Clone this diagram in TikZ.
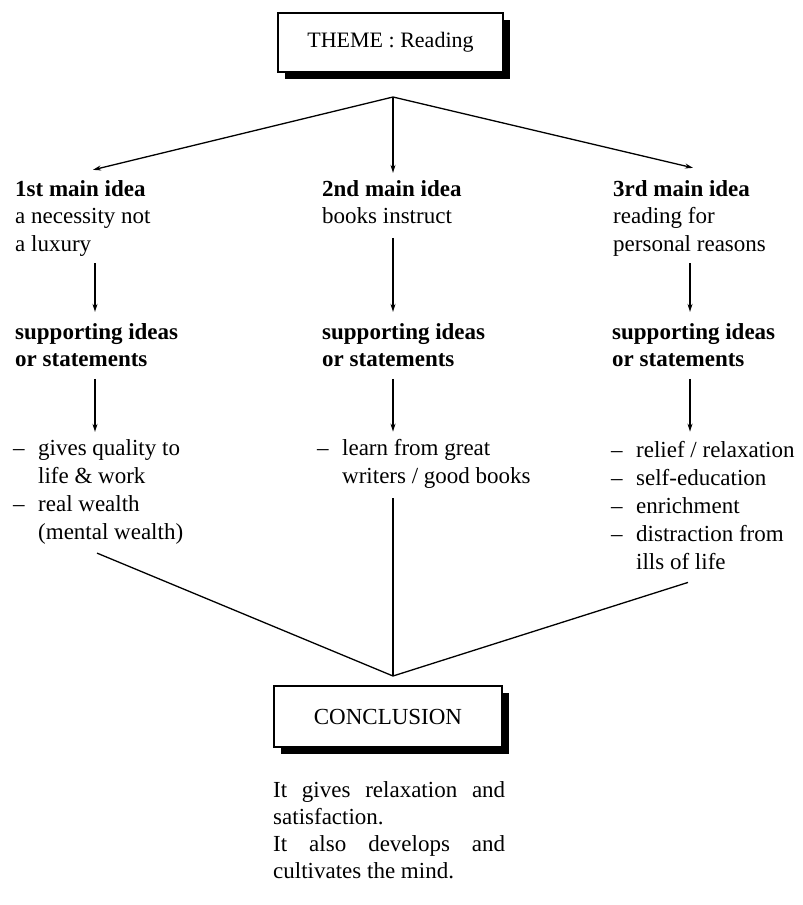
\documentclass[tikz,border=0pt]{standalone}
\usepackage{fontspec}
\setmainfont{Liberation Serif}
\usetikzlibrary{arrows.meta,calc,shadows}
\newcommand{\dashitem}{\makebox[25pt][l]{–}}
\newcommand{\contitem}{\hspace*{25pt}}
\begin{document}
\begin{tikzpicture}[x=1pt,y=-1pt,
  txt/.style={anchor=base west,inner sep=0pt,align=left,font=\fontsize{23}{27.5}\selectfont},
  bul/.style={txt,font=\fontsize{23}{28}\selectfont},
  box/.style={draw,line width=1.3pt,fill=white,inner sep=0pt,
    drop shadow={shadow xshift=6.5pt,shadow yshift=-6.5pt,opacity=1,fill=black}},
  arr/.style={line width=1.3pt,-{Stealth[length=8pt,width=5pt]}},
  ln/.style={line width=1.3pt}]
\useasboundingbox (0,0) rectangle (803,905);

% boxes
\node[box,minimum width=225pt,minimum height=59pt,font=\fontsize{22}{26}\selectfont] (theme) at (390.5,42.5) {THEME : Reading};
\node[box,minimum width=228pt,minimum height=61pt,font=\fontsize{23}{27}\selectfont] (concl) at (388,716.5) {CONCLUSION};

\coordinate (top) at (393,97);
\coordinate (bot) at (393,676);
\coordinate (c1) at (95,0);
\coordinate (c2) at (393,0);
\coordinate (c3) at (690,0);

% main ideas (positioned at the baseline of their last line)
\node[txt] (m1) at (15,251) {\textbf{1st main idea}\\a necessity not\\a luxury};
\node[txt] (m2) at (322,223.5) {\textbf{2nd main idea}\\books instruct};
\node[txt] (m3) at (613,251) {\textbf{3rd main idea}\\reading for\\personal reasons};

% supporting
\node[txt] (s1) at (15,366.5) {\textbf{supporting ideas}\\\textbf{or statements}};
\node[txt] (s2) at (322,366.5) {\textbf{supporting ideas}\\\textbf{or statements}};
\node[txt] (s3) at (612,366.5) {\textbf{supporting ideas}\\\textbf{or statements}};

% bullets
\node[bul] (b1) at (13,539) {\dashitem gives quality to\\\contitem life \& work\\\dashitem real wealth\\\contitem (mental wealth)};
\node[bul] (b2) at (317,483) {\dashitem learn from great\\\contitem writers / good books};
\node[bul] (b3) at (611,569) {\dashitem relief / relaxation\\\dashitem self-education\\\dashitem enrichment\\\dashitem distraction from\\\contitem ills of life};

% conclusion text
\node[txt,font=\fontsize{23}{27}\selectfont] (ctext) at (273,878)
  {\makebox[232pt][s]{It gives relaxation and}\\satisfaction.\\\makebox[232pt][s]{It also develops and}\\cultivates the mind.};

% connectors
\draw[arr] (top) -- ($(m1.north -| c1)+(-2,-10)$);
\draw[arr] (top) -- ($(m2.north -| c2)+(0,-7)$);
\draw[arr] (top) -- ($(m3.north -| c3)+(3,-12)$);

\draw[arr] ($(m1.south -| c1)+(0,7)$) -- ($(s1.north -| c1)+(0,-11)$);
\draw[arr] ($(m2.south -| c2)+(0,14)$) -- ($(s2.north -| c2)+(0,-11)$);
\draw[arr] ($(m3.south -| c3)+(0,7)$) -- ($(s3.north -| c3)+(0,-11)$);

\draw[arr] ($(s1.south -| c1)+(0,12)$) -- ($(b1.north -| c1)+(0,-7)$);
\draw[arr] ($(s2.south -| c2)+(0,12)$) -- ($(b2.north -| c2)+(0,-7)$);
\draw[arr] ($(s3.south -| c3)+(0,12)$) -- ($(b3.north -| c3)+(0,-9)$);

\draw[ln] ($(b1.south -| c1)+(2,9)$) -- (bot);
\draw[ln] ($(b2.south -| c2)+(0,10)$) -- (bot);
\draw[ln] ($(b3.south -| c3)+(-2,13)$) -- (bot);
\end{tikzpicture}
\end{document}
